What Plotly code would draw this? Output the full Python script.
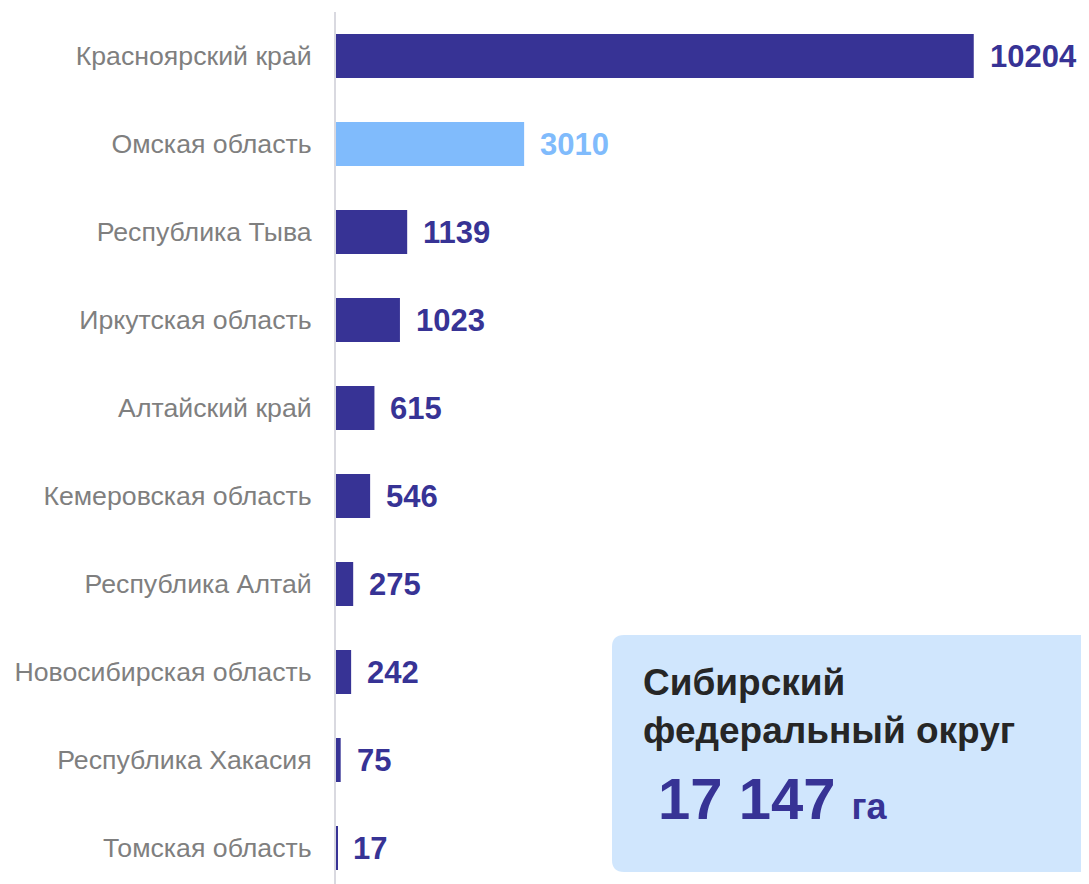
import plotly.graph_objects as go
import re

regions = ["Красноярский край", "Омская область", "Республика Тыва", "Иркутская область",
           "Алтайский край", "Кемеровская область", "Республика Алтай",
           "Новосибирская область", "Республика Хакасия", "Томская область"]
values = [10204, 3010, 1139, 1023, 615, 546, 275, 242, 75, 17]
highlight = "Омская область"
total_text = "17 147"
box_title = ["Сибирский", "федеральный округ"]
unit = "га"

NAVY = "#373395"
LIGHT = "#80bbfc"
colors = [LIGHT if r == highlight else NAVY for r in regions]

OFF = 8  # page offset of the figure (body margin)
W, H = 1089, 884
L, R, T, B = 336 - OFF, 0, 12 - OFF, 0
pw, ph = W - L - R, H - T - B

def px(x):
    return (x - OFF - L) / pw

def py(y):
    return (H - B - (y - OFF)) / ph

fig = go.Figure()
fig.add_trace(go.Bar(
    x=values, y=regions, orientation="h",
    marker=dict(color=colors, line=dict(width=0)),
    width=0.5, hoverinfo="skip",
))

for r, v, c in zip(regions, values, colors):
    fig.add_annotation(x=v, y=r, xref="x", yref="y", text=f"<b>{v}</b>",
                       showarrow=False, xanchor="left", xshift=14,
                       font=dict(family="Liberation Sans, Arial", size=31, color=c))

# rounded box
x0, x1, y0, y1, rad = 612, 1092, 635, 872, 12
path = (f"M {x0+rad},{y0} L {x1-rad},{y0} Q {x1},{y0} {x1},{y0+rad} "
        f"L {x1},{y1-rad} Q {x1},{y1} {x1-rad},{y1} L {x0+rad},{y1} "
        f"Q {x0},{y1} {x0},{y1-rad} L {x0},{y0+rad} Q {x0},{y0} {x0+rad},{y0} Z")

def conv(m):
    a, b = float(m.group(1)), float(m.group(2))
    return f"{px(a):.5f},{py(b):.5f}"

path_p = re.sub(r"([\d.]+),([\d.]+)", conv, path)
fig.add_shape(type="path", path=path_p, xref="paper", yref="paper",
              fillcolor="#d0e6fd", line=dict(width=0), layer="below")

fig.add_annotation(x=px(641), y=py(660), xref="paper", yref="paper",
                   text="<b>" + "<br>".join(box_title) + "</b>", showarrow=False,
                   xanchor="left", yanchor="top", align="left",
                   font=dict(family="Liberation Sans, Arial", size=37, color="#262626"))
fig.add_annotation(x=px(656), y=py(833), xref="paper", yref="paper",
                   text=f"<b>{total_text}</b> <b><span style='font-size:36px'>{unit}</span></b>",
                   showarrow=False, xanchor="left", yanchor="bottom", align="left",
                   font=dict(family="Liberation Sans, Arial", size=58, color=NAVY))

fig.update_layout(
    width=W, height=H, margin=dict(l=L, r=R, t=T, b=B),
    plot_bgcolor="white", paper_bgcolor="white", showlegend=False,
    xaxis=dict(range=[0, pw / 0.0625], visible=False, fixedrange=True),
    yaxis=dict(range=[ph / 88 - 0.5, -0.5], showgrid=False, zeroline=False,
               showline=True, linecolor="#d9d9e0", linewidth=2,
               ticks="", ticklabelstandoff=17,
               tickfont=dict(family="Liberation Sans, Arial", size=26.7, color="#7f7f7f")),
)
fig.write_html("out.html")
